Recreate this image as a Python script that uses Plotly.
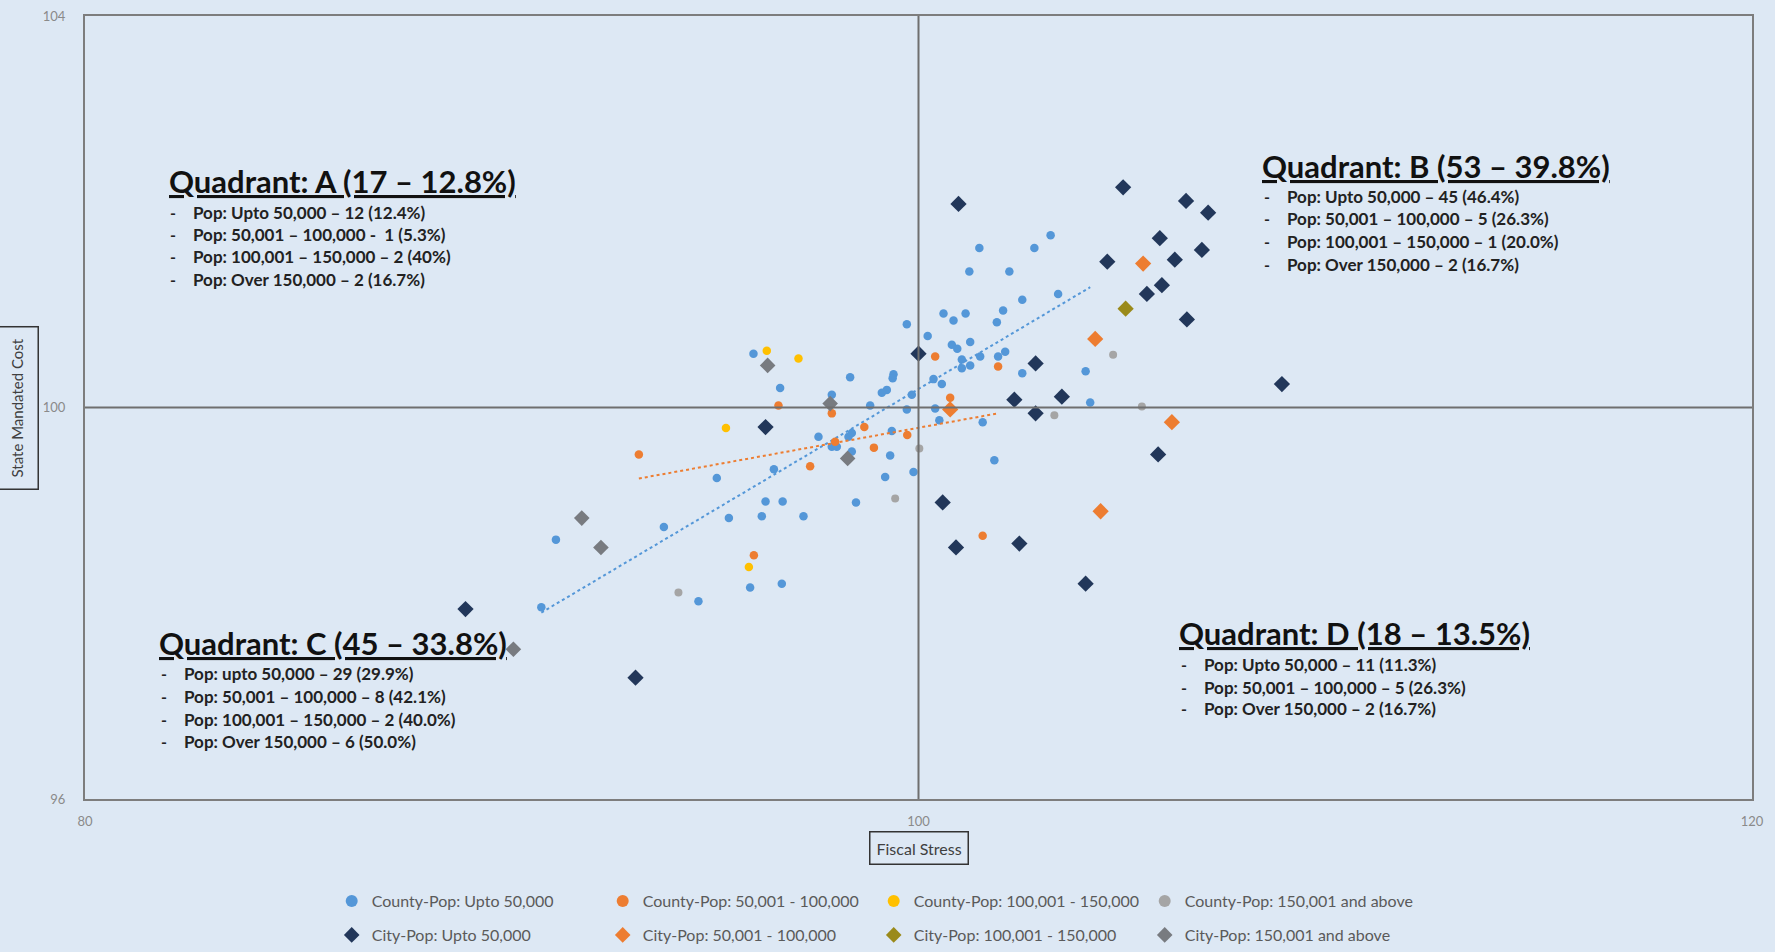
import numpy as np
import plotly.graph_objects as go

# ---- series values (Fiscal Stress, State Mandated Cost) ----
county_u50_x = [96.04, 99.72, 100.22, 100.60, 100.84, 101.13, 101.88, 100.80, 100.93, 101.24,
                101.04, 101.48, 101.04, 101.24, 101.91, 96.68, 98.36, 99.40, 99.38, 99.24,
                99.12, 99.84, 97.92, 100.36, 100.56, 98.84, 99.72, 100.40, 100.50, 101.54,
                97.60, 98.32, 98.40, 97.92, 98.04, 98.40, 99.36, 99.32, 99.88, 99.20,
                101.82, 96.53, 95.16, 96.33, 96.74, 98.50, 95.45, 96.24, 97.24, 93.89,
                91.30, 90.95, 94.72, 95.96, 96.72, 103.17, 101.46, 102.78, 101.22, 102.18,
                103.35, 102.49, 102.03, 102.08, 102.49, 104.01, 104.12]
county_u50_y = [100.55, 100.85, 100.73, 100.96, 100.89, 100.96, 100.87, 100.64, 100.60, 100.67,
                100.49, 100.52, 100.40, 100.43, 100.52, 100.20, 100.31, 100.34, 100.30, 100.18,
                100.15, 100.13, 100.13, 100.29, 100.24, 100.02, 99.98, 99.99, 99.87, 99.85,
                99.70, 99.70, 99.74, 99.60, 99.60, 99.55, 99.76, 99.51, 99.34, 99.29,
                99.46, 99.37, 99.28, 99.04, 99.04, 99.03, 98.87, 98.89, 98.89, 98.78,
                98.65, 97.96, 98.02, 98.16, 98.20, 101.76, 101.63, 101.63, 101.39, 101.39,
                101.16, 101.10, 100.99, 100.57, 100.35, 100.37, 100.05]

county_50_100_x = [93.29, 96.64, 97.92, 98.70, 98.00, 98.93, 99.73, 97.40, 100.40, 100.76,
                   96.05, 101.54, 101.91]
county_50_100_y = [99.52, 100.02, 99.94, 99.80, 99.65, 99.59, 99.72, 99.40, 100.52, 100.10,
                   98.49, 98.69, 100.42]

county_100_150_x = [96.36, 97.12, 95.38, 95.93]
county_100_150_y = [100.58, 100.50, 99.79, 98.37]

county_150p_x = [99.44, 94.24, 100.02, 104.67, 105.36, 103.26]
county_150p_y = [99.07, 98.11, 99.58, 100.54, 100.01, 99.92]

city_u50_x = [104.91, 100.96, 106.42, 106.95, 105.79, 106.80, 104.53, 106.15, 105.84, 105.48,
              106.44, 108.72, 100.00, 102.81, 102.30, 103.44, 102.81, 105.75, 100.58, 100.90,
              102.42, 104.01, 96.33, 89.13, 93.21]
city_u50_y = [102.25, 102.08, 102.11, 101.99, 101.73, 101.61, 101.49, 101.51, 101.25, 101.16,
              100.90, 100.24, 100.55, 100.45, 100.08, 100.11, 99.94, 99.52, 99.03, 98.57,
              98.61, 98.20, 99.80, 97.94, 97.24]

city_50_100_x = [105.39, 104.24, 106.08, 104.37, 100.76]
city_50_100_y = [101.47, 100.70, 99.85, 98.94, 99.98]

city_100_150_x = [104.97]
city_100_150_y = [101.01]

city_150p_x = [96.38, 97.88, 98.30, 91.92, 92.38, 90.28]
city_150p_y = [100.43, 100.04, 99.48, 98.87, 98.57, 97.53]

x_ticks = [80, 100, 120]
y_ticks = [96, 100, 104]

# quadrant summaries: (title, lines)
quad_a = ("Quadrant: A (17 \u2013 12.8%)",
          ["Pop: Upto 50,000 \u2013 12 (12.4%)",
           "Pop: 50,001 \u2013 100,000 -  1 (5.3%)",
           "Pop: 100,001 \u2013 150,000 \u2013 2 (40%)",
           "Pop: Over 150,000 \u2013 2 (16.7%)"])
quad_b = ("Quadrant: B (53 \u2013 39.8%)",
          ["Pop: Upto 50,000 \u2013 45 (46.4%)",
           "Pop: 50,001 \u2013 100,000 \u2013 5 (26.3%)",
           "Pop: 100,001 \u2013 150,000 \u2013 1 (20.0%)",
           "Pop: Over 150,000 \u2013 2 (16.7%)"])
quad_c = ("Quadrant: C (45 \u2013 33.8%)",
          ["Pop: upto 50,000 \u2013 29 (29.9%)",
           "Pop: 50,001 \u2013 100,000 \u2013 8 (42.1%)",
           "Pop: 100,001 \u2013 150,000 \u2013 2 (40.0%)",
           "Pop: Over 150,000 \u2013 6 (50.0%)"])
quad_d = ("Quadrant: D (18 \u2013 13.5%)",
          ["Pop: Upto 50,000 \u2013 11 (11.3%)",
           "Pop: 50,001 \u2013 100,000 \u2013 5 (26.3%)",
           "Pop: Over 150,000 \u2013 2 (16.7%)"])

# ---- styling ----
BG = "#dde8f4"
FONT = "Lato"
BLUE = "#5497d8"
ORANGE = "#ed7d31"
GOLD = "#ffc000"
LGRAY = "#a5a5a5"
NAVY = "#22375a"
OLIVE = "#9a8a1a"
DGRAY = "#787b80"

fig = go.Figure()


def add_series(name, xs, ys, color, symbol, size, legend):
    fig.add_trace(go.Scatter(
        x=xs, y=ys, mode="markers", name=name, legend=legend,
        marker=dict(color=color, symbol=symbol, size=size, line=dict(width=0)),
    ))


def add_trend(xs, ys, color):
    slope, icpt = np.polyfit(xs, ys, 1)
    xr = np.array([min(xs), max(xs)])
    fig.add_trace(go.Scatter(
        x=xr, y=slope * xr + icpt, mode="lines", showlegend=False, hoverinfo="skip",
        line=dict(color=color, width=2, dash="dot"),
    ))


add_series("County-Pop: Upto 50,000", county_u50_x, county_u50_y, BLUE, "circle", 8.5, "legend")
add_trend(county_u50_x, county_u50_y, BLUE)
add_series("County-Pop: 50,001 - 100,000", county_50_100_x, county_50_100_y, ORANGE, "circle", 8.5, "legend")
add_trend(county_50_100_x, county_50_100_y, ORANGE)
add_series("County-Pop: 100,001 - 150,000", county_100_150_x, county_100_150_y, GOLD, "circle", 8.5, "legend")
add_series("County-Pop: 150,001 and above", county_150p_x, county_150p_y, LGRAY, "circle", 8, "legend")
add_series("City-Pop: Upto 50,000", city_u50_x, city_u50_y, NAVY, "diamond", 12.5, "legend2")
add_series("City-Pop: 50,001 - 100,000", city_50_100_x, city_50_100_y, ORANGE, "diamond", 12.5, "legend2")
add_series("City-Pop: 100,001 - 150,000", city_100_150_x, city_100_150_y, OLIVE, "diamond", 12.5, "legend2")
add_series("City-Pop: 150,001 and above", city_150p_x, city_150p_y, DGRAY, "diamond", 12, "legend2")

# quadrant dividers at 100 / 100
fig.add_shape(type="line", xref="x", yref="y", x0=100, x1=100, y0=96, y1=104,
              line=dict(color="#6f6f6f", width=2))
fig.add_shape(type="line", xref="x", yref="y", x0=80, x1=120, y0=100, y1=100,
              line=dict(color="#6f6f6f", width=2))


def add_quadrant(info, tx, ty, dash_x, text_x, line_ys):
    title, lines = info
    fig.add_annotation(x=tx, y=ty, xref="x", yref="y", text="<b><u>" + title + "</u></b>",
                       showarrow=False, xanchor="left", yanchor="middle",
                       font=dict(family=FONT, size=31, color="#111111"))
    for ly, txt in zip(line_ys, lines):
        fig.add_annotation(x=dash_x, y=ly, xref="x", yref="y", text="<b>-</b>",
                           showarrow=False, xanchor="left", yanchor="middle",
                           font=dict(family=FONT, size=16, color="#222222"))
        fig.add_annotation(x=text_x, y=ly, xref="x", yref="y", text="<b>" + txt + "</b>",
                           showarrow=False, xanchor="left", yanchor="middle",
                           font=dict(family=FONT, size=17, color="#222222"))


add_quadrant(quad_a, 81.97, 102.31, 81.99, 82.54, [101.997, 101.767, 101.538, 101.308])
add_quadrant(quad_b, 108.19, 102.467, 108.24, 108.79, [102.156, 101.926, 101.696, 101.466])
add_quadrant(quad_c, 81.73, 97.594, 81.78, 82.33, [97.282, 97.047, 96.817, 96.587])
add_quadrant(quad_d, 106.20, 97.696, 106.25, 106.80, [97.374, 97.144, 96.920])

# boxed axis titles
fig.add_annotation(x=-0.0405, y=0.5, xref="paper", yref="paper", text="State Mandated Cost",
                   textangle=-90, showarrow=False, xanchor="center", yanchor="middle",
                   font=dict(family=FONT, size=15, color="#404040"),
                   bordercolor="#333333", borderwidth=1.5, borderpad=11)
fig.add_annotation(x=0.5, y=-0.0626, xref="paper", yref="paper", text="Fiscal Stress",
                   showarrow=False, xanchor="center", yanchor="middle",
                   font=dict(family=FONT, size=16, color="#404040"),
                   bordercolor="#333333", borderwidth=1.5, borderpad=6)

legend_common = dict(orientation="h", xanchor="left", yanchor="middle",
                     entrywidth=226, entrywidthmode="pixels", bgcolor="rgba(0,0,0,0)",
                     itemsizing="constant", traceorder="normal",
                     font=dict(family=FONT, size=16, color="#5a5a5a"))

fig.update_layout(
    width=1775, height=952,
    margin=dict(l=85, r=23, t=16, b=153, autoexpand=False),
    paper_bgcolor=BG, plot_bgcolor=BG,
    font=dict(family=FONT, color="#7f7f7f"),
    showlegend=True,
    legend=dict(x=0.148, y=-0.1303, **legend_common),
    legend2=dict(x=0.148, y=-0.1737, **legend_common),
    xaxis=dict(range=[80, 120], tickvals=x_ticks, showgrid=False, zeroline=False,
               showline=True, mirror=True, linecolor="#7d7d7d", linewidth=2,
               ticks="outside", ticklen=9, tickcolor="rgba(0,0,0,0)",
               tickfont=dict(family=FONT, size=13, color="#8a8a8a")),
    yaxis=dict(range=[96, 104], tickvals=y_ticks, showgrid=False, zeroline=False,
               showline=True, mirror=True, linecolor="#7d7d7d", linewidth=2,
               ticks="outside", ticklen=15, tickcolor="rgba(0,0,0,0)",
               tickfont=dict(family=FONT, size=13, color="#8a8a8a")),
)

fig.write_html("out.html")
